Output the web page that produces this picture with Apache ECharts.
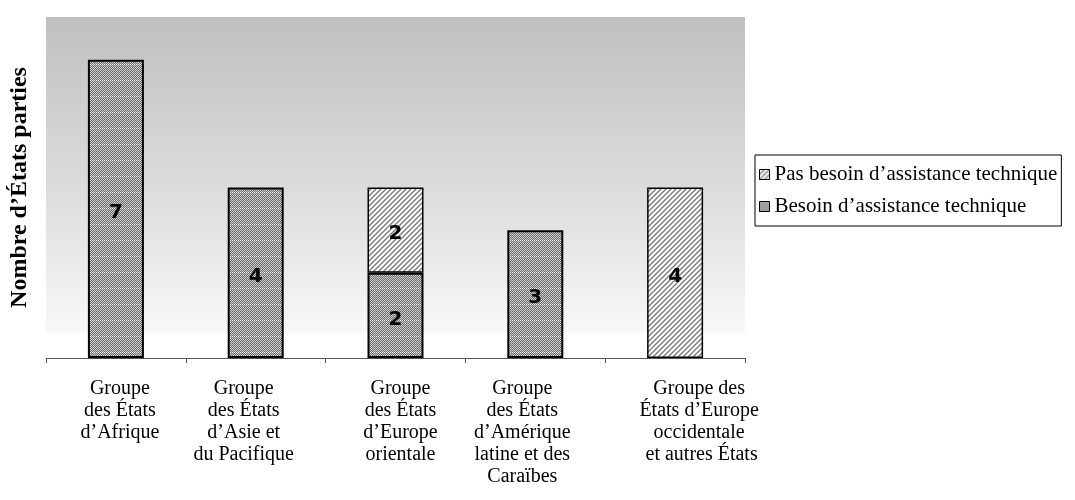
<!DOCTYPE html>
<html>
<head>
<meta charset="utf-8">
<script src="https://cdn.jsdelivr.net/npm/echarts@6/dist/echarts.min.js"></script>
<style>
html,body{margin:0;padding:0;background:#fff;}
#chart{width:1075px;height:500px;}
</style>
</head>
<body>
<div id="chart"></div>
<script>
const categories = [
  'Groupe\ndes États\nd’Afrique',
  'Groupe\ndes États\nd’Asie et\ndu Pacifique',
  'Groupe\ndes États\nd’Europe\norientale',
  'Groupe\ndes États\nd’Amérique\nlatine et des\nCaraïbes',
  'Groupe des\nÉtats d’Europe\noccidentale\n et autres États'
];
const besoin = [7, 4, 2, 3, 0];
const pasBesoin = [0, 0, 2, 0, 4];
const seriesNames = ['Besoin d’assistance technique', 'Pas besoin d’assistance technique'];
const yTitle = 'Nombre d’États parties';

function checkerPattern() {
  const c = document.createElement('canvas');
  c.width = 4; c.height = 16;
  const g = c.getContext('2d');
  for (let y = 0; y < 16; y++) {
    for (let x = 0; x < 4; x++) {
      let col = ((x + y) % 2) ? '#6e6e6e' : '#cdcdcd';
      if (y === 0 && (x % 2 === 0)) col = '#ffffff';
      g.fillStyle = col;
      g.fillRect(x, y, 1, 1);
    }
  }
  return { image: c, repeat: 'repeat' };
}
function hatchPattern() {
  const c = document.createElement('canvas');
  c.width = 5; c.height = 5;
  const g = c.getContext('2d');
  g.fillStyle = '#ffffff';
  g.fillRect(0, 0, 5, 5);
  g.strokeStyle = '#7a7a7a';
  g.lineWidth = 1.4;
  g.beginPath();
  g.moveTo(-1, 6); g.lineTo(6, -1);
  g.moveTo(-3, 3); g.lineTo(3, -3);
  g.moveTo(2, 8); g.lineTo(8, 2);
  g.stroke();
  return { image: c, repeat: 'repeat' };
}

const labelShift = [
  [0, 0, 0, 8], [0, 24, 0, 0], [0, 0, 0, 10], [0, 26, 0, 0], [0, 0, 0, 48]
];
const rich = {};
labelShift.forEach((p, i) => {
  rich['s' + i] = {
    fontFamily: 'Liberation Serif', fontSize: 20, lineHeight: 22, color: '#000', padding: p
  };
});

const chart = echarts.init(document.getElementById('chart'), null, { renderer: 'canvas' });
const barLabel = {
  show: true, position: 'inside', offset: [0, 4], color: '#000',
  fontFamily: 'DejaVu Sans', fontWeight: 'bold', fontSize: 20,
  formatter: p => (p.value ? String(p.value) : '')
};
chart.setOption({
  animation: false,
  backgroundColor: '#fff',
  grid: {
    left: 44, right: 330, top: 17, bottom: 142,
    show: true, borderWidth: 0,
    backgroundColor: {
      type: 'linear', x: 0, y: 0, x2: 0, y2: 1,
      colorStops: [
        { offset: 0, color: '#c0c0c0' },
        { offset: 0.5, color: '#dcdcdc' },
        { offset: 0.925, color: '#f8f8f8' },
        { offset: 0.926, color: '#ffffff' },
        { offset: 1, color: '#ffffff' }
      ]
    }
  },
  legend: {
    orient: 'vertical', left: 755, top: 155,
    data: [seriesNames[1], seriesNames[0]],
    icon: 'rect', itemWidth: 10, itemHeight: 10, itemGap: 11,
    padding: [9, 4, 9, 4],
    backgroundColor: '#fff', borderColor: '#000', borderWidth: 1,
    itemStyle: { borderColor: '#000', borderWidth: 1 },
    textStyle: { fontFamily: 'Liberation Serif', fontSize: 21, color: '#000', width: 300 }
  },
  xAxis: {
    type: 'category', data: categories,
    axisLine: { show: true, lineStyle: { color: '#555', width: 1 } },
    axisTick: { show: true, length: 5, lineStyle: { color: '#555' } },
    axisLabel: {
      interval: 0, margin: 20,
      formatter: (v, i) => v.split('\n').map(l => '{s' + i + '|' + l + '}').join('\n'),
      rich: rich
    }
  },
  yAxis: {
    type: 'value', min: 0, max: 8, interval: 1,
    name: yTitle, nameLocation: 'middle', nameRotate: 90, nameGap: 14,
    nameTextStyle: { fontFamily: 'Liberation Serif', fontWeight: 'bold', fontSize: 24, color: '#000' },
    axisLine: { show: false }, axisTick: { show: false },
    axisLabel: { show: false }, splitLine: { show: false }
  },
  series: [
    {
      name: seriesNames[0], type: 'bar', stack: 'total', barWidth: 56,
      data: besoin.map(v => (v ? v : null)),
      itemStyle: { color: checkerPattern(), borderColor: '#000', borderWidth: 2 },
      label: barLabel
    },
    {
      name: seriesNames[1], type: 'bar', stack: 'total', barWidth: 56,
      data: pasBesoin.map(v => (v ? v : null)),
      itemStyle: { color: hatchPattern(), borderColor: '#000', borderWidth: 1.5 },
      label: barLabel
    }
  ]
});
</script>
</body>
</html>
